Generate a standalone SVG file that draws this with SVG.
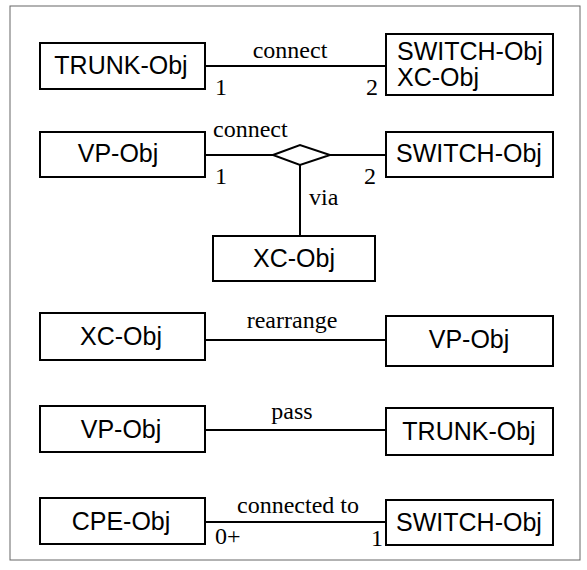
<svg xmlns="http://www.w3.org/2000/svg" width="587" height="570" viewBox="0 0 587 570">
<style>
.box{fill:#fff;stroke:#000;stroke-width:2}
.ln{stroke:#000;stroke-width:2;fill:none}
.t{font-family:"Liberation Sans",Arial,sans-serif;font-size:25px;fill:#000}
.s{font-family:"Liberation Serif","Times New Roman",serif;font-size:24px;fill:#000}
</style>
<rect x="0" y="0" width="587" height="570" fill="#fff"/>
<rect x="10" y="6" width="570" height="554" fill="none" stroke="#666" stroke-width="1"/>
<g id="connectors">
<line class="ln" x1="205" y1="66" x2="386" y2="66"/>
<line class="ln" x1="205" y1="155" x2="273" y2="155"/>
<line class="ln" x1="330" y1="155" x2="386" y2="155"/>
<polygon class="ln" points="273,155 300,145 330,155 300,165" fill="#fff" stroke-width="3"/>
<line class="ln" x1="300" y1="165" x2="300" y2="236"/>
<line class="ln" x1="205" y1="340" x2="386" y2="340"/>
<line class="ln" x1="205" y1="430" x2="386" y2="430"/>
<line class="ln" x1="205" y1="522" x2="386" y2="522"/>
<text class="s" x="290" y="58" text-anchor="middle">connect</text>
<text class="s" x="215" y="95">1</text>
<text class="s" x="366" y="95">2</text>
<text class="s" x="213" y="137">connect</text>
<text class="s" x="215" y="184">1</text>
<text class="s" x="364" y="184">2</text>
<text class="s" x="309" y="205">via</text>
<text class="s" x="292" y="328" text-anchor="middle">rearrange</text>
<text class="s" x="292" y="419" text-anchor="middle">pass</text>
<text class="s" x="298" y="513" text-anchor="middle">connected to</text>
<text class="s" x="215" y="544">0+</text>
<text class="s" x="371" y="546">1</text>
</g>
<g id="trunk1"><rect class="box" x="40" y="43" width="165" height="46"/><text class="t" x="121" y="74" text-anchor="middle">TRUNK-Obj</text></g>
<g id="switchxc1"><rect class="box" x="386" y="34" width="167" height="61"/><text class="t" x="397" y="60">SWITCH-Obj</text><text class="t" x="397" y="86">XC-Obj</text></g>
<g id="vp2"><rect class="box" x="40" y="132" width="165" height="45"/><text class="t" x="118" y="162" text-anchor="middle">VP-Obj</text></g>
<g id="switch2"><rect class="box" x="386" y="132" width="167" height="45"/><text class="t" x="469" y="162" text-anchor="middle">SWITCH-Obj</text></g>
<g id="xc2"><rect class="box" x="213" y="236" width="162" height="45"/><text class="t" x="294" y="267" text-anchor="middle">XC-Obj</text></g>
<g id="xc3"><rect class="box" x="40" y="313" width="165" height="47"/><text class="t" x="121" y="345" text-anchor="middle">XC-Obj</text></g>
<g id="vp3"><rect class="box" x="386" y="316" width="167" height="50"/><text class="t" x="469" y="348" text-anchor="middle">VP-Obj</text></g>
<g id="vp4"><rect class="box" x="40" y="406" width="165" height="46"/><text class="t" x="121" y="438" text-anchor="middle">VP-Obj</text></g>
<g id="trunk4"><rect class="box" x="386" y="408" width="167" height="47"/><text class="t" x="469" y="440" text-anchor="middle">TRUNK-Obj</text></g>
<g id="cpe5"><rect class="box" x="40" y="498" width="165" height="46"/><text class="t" x="121" y="530" text-anchor="middle">CPE-Obj</text></g>
<g id="switch5"><rect class="box" x="386" y="500" width="167" height="45"/><text class="t" x="469" y="531" text-anchor="middle">SWITCH-Obj</text></g>
</svg>
